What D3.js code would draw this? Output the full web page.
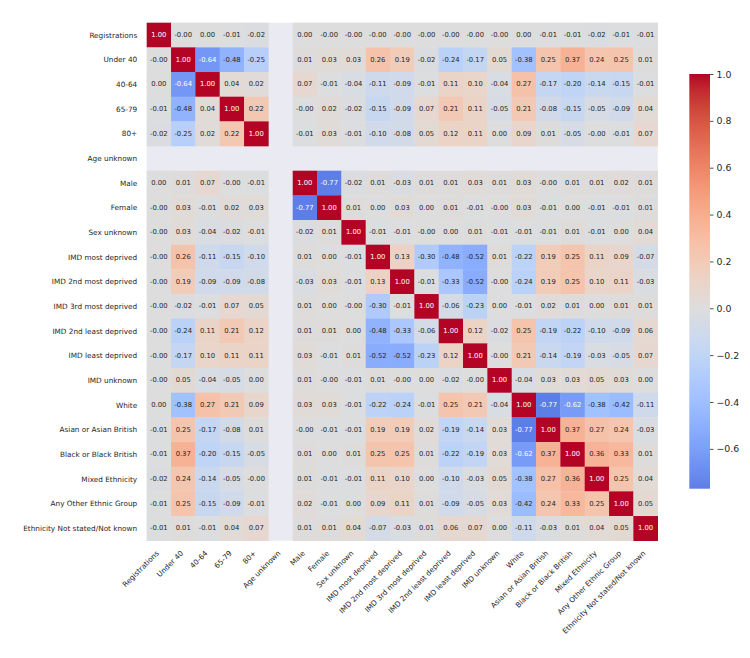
<!DOCTYPE html>
<html>
<head>
<meta charset="utf-8">
<script src="https://cdn.jsdelivr.net/npm/d3@7"></script>
<style>
  body { margin: 0; background: #ffffff; }
  text { font-family: "DejaVu Sans", sans-serif; fill: #262626; }
</style>
</head>
<body>
<div id="chart"></div>
<script>
// Row / column labels of the correlation matrix
const labels = ["Registrations", "Under 40", "40-64", "65-79", "80+", "Age unknown",
  "Male", "Female", "Sex unknown", "IMD most deprived", "IMD 2nd most deprived",
  "IMD 3rd most deprived", "IMD 2nd least deprived", "IMD least deprived", "IMD unknown",
  "White", "Asian or Asian British", "Black or Black British", "Mixed Ethnicity",
  "Any Other Ethnic Group", "Ethnicity Not stated/Not known"];

// Correlation values, one row per label (null = NaN, drawn as empty)
const N = null;
const corr = [
  [1.00, -0.00, 0.00, -0.01, -0.02, N, 0.00, -0.00, -0.00, -0.00, -0.00, -0.00, -0.00, -0.00, -0.00, 0.00, -0.01, -0.01, -0.02, -0.01, -0.01],
  [-0.00, 1.00, -0.64, -0.48, -0.25, N, 0.01, 0.03, 0.03, 0.26, 0.19, -0.02, -0.24, -0.17, 0.05, -0.38, 0.25, 0.37, 0.24, 0.25, 0.01],
  [0.00, -0.64, 1.00, 0.04, 0.02, N, 0.07, -0.01, -0.04, -0.11, -0.09, -0.01, 0.11, 0.10, -0.04, 0.27, -0.17, -0.20, -0.14, -0.15, -0.01],
  [-0.01, -0.48, 0.04, 1.00, 0.22, N, -0.00, 0.02, -0.02, -0.15, -0.09, 0.07, 0.21, 0.11, -0.05, 0.21, -0.08, -0.15, -0.05, -0.09, 0.04],
  [-0.02, -0.25, 0.02, 0.22, 1.00, N, -0.01, 0.03, -0.01, -0.10, -0.08, 0.05, 0.12, 0.11, 0.00, 0.09, 0.01, -0.05, -0.00, -0.01, 0.07],
  [N, N, N, N, N, N, N, N, N, N, N, N, N, N, N, N, N, N, N, N, N],
  [0.00, 0.01, 0.07, -0.00, -0.01, N, 1.00, -0.77, -0.02, 0.01, -0.03, 0.01, 0.01, 0.03, 0.01, 0.03, -0.00, 0.01, 0.01, 0.02, 0.01],
  [-0.00, 0.03, -0.01, 0.02, 0.03, N, -0.77, 1.00, 0.01, 0.00, 0.03, 0.00, 0.01, -0.01, -0.00, 0.03, -0.01, 0.00, -0.01, -0.01, 0.01],
  [-0.00, 0.03, -0.04, -0.02, -0.01, N, -0.02, 0.01, 1.00, -0.01, -0.01, -0.00, 0.00, 0.01, -0.01, -0.01, -0.01, 0.01, -0.01, 0.00, 0.04],
  [-0.00, 0.26, -0.11, -0.15, -0.10, N, 0.01, 0.00, -0.01, 1.00, 0.13, -0.30, -0.48, -0.52, 0.01, -0.22, 0.19, 0.25, 0.11, 0.09, -0.07],
  [-0.00, 0.19, -0.09, -0.09, -0.08, N, -0.03, 0.03, -0.01, 0.13, 1.00, -0.01, -0.33, -0.52, -0.00, -0.24, 0.19, 0.25, 0.10, 0.11, -0.03],
  [-0.00, -0.02, -0.01, 0.07, 0.05, N, 0.01, 0.00, -0.00, -0.30, -0.01, 1.00, -0.06, -0.23, 0.00, -0.01, 0.02, 0.01, 0.00, 0.01, 0.01],
  [-0.00, -0.24, 0.11, 0.21, 0.12, N, 0.01, 0.01, 0.00, -0.48, -0.33, -0.06, 1.00, 0.12, -0.02, 0.25, -0.19, -0.22, -0.10, -0.09, 0.06],
  [-0.00, -0.17, 0.10, 0.11, 0.11, N, 0.03, -0.01, 0.01, -0.52, -0.52, -0.23, 0.12, 1.00, -0.00, 0.21, -0.14, -0.19, -0.03, -0.05, 0.07],
  [-0.00, 0.05, -0.04, -0.05, 0.00, N, 0.01, -0.00, -0.01, 0.01, -0.00, 0.00, -0.02, -0.00, 1.00, -0.04, 0.03, 0.03, 0.05, 0.03, 0.00],
  [0.00, -0.38, 0.27, 0.21, 0.09, N, 0.03, 0.03, -0.01, -0.22, -0.24, -0.01, 0.25, 0.21, -0.04, 1.00, -0.77, -0.62, -0.38, -0.42, -0.11],
  [-0.01, 0.25, -0.17, -0.08, 0.01, N, -0.00, -0.01, -0.01, 0.19, 0.19, 0.02, -0.19, -0.14, 0.03, -0.77, 1.00, 0.37, 0.27, 0.24, -0.03],
  [-0.01, 0.37, -0.20, -0.15, -0.05, N, 0.01, 0.00, 0.01, 0.25, 0.25, 0.01, -0.22, -0.19, 0.03, -0.62, 0.37, 1.00, 0.36, 0.33, 0.01],
  [-0.02, 0.24, -0.14, -0.05, -0.00, N, 0.01, -0.01, -0.01, 0.11, 0.10, 0.00, -0.10, -0.03, 0.05, -0.38, 0.27, 0.36, 1.00, 0.25, 0.04],
  [-0.01, 0.25, -0.15, -0.09, -0.01, N, 0.02, -0.01, 0.00, 0.09, 0.11, 0.01, -0.09, -0.05, 0.03, -0.42, 0.24, 0.33, 0.25, 1.00, 0.05],
  [-0.01, 0.01, -0.01, 0.04, 0.07, N, 0.01, 0.01, 0.04, -0.07, -0.03, 0.01, 0.06, 0.07, 0.00, -0.11, -0.03, 0.01, 0.04, 0.05, 1.00]
];

// Colorbar ticks
const cbarTicks = [-0.6, -0.4, -0.2, 0.0, 0.2, 0.4, 0.6, 0.8, 1.0];

// matplotlib "coolwarm" colour stops (Moreland), evenly spaced on [0, 1]
const coolwarm = ["#3b4cc0", "#445acc", "#4d68d7", "#5775e1", "#6282ea", "#6c8ef1", "#779af7", "#82a5fb",
  "#8db0fe", "#98b9ff", "#a3c2ff", "#aec9fd", "#b8d0f9", "#c2d5f4", "#ccd9ee", "#d5dbe6",
  "#dddddd", "#e5d8d1", "#ecd3c5", "#f1ccb9", "#f5c4ad", "#f7bba0", "#f7b194", "#f7a687",
  "#f49a7b", "#f18d6f", "#ec7f63", "#e57058", "#de604d", "#d55042", "#cb3e38", "#c0282f", "#b40426"];

const width = 750, height = 658;
const gLeft = 146.7, gRight = 657.7, gTop = 22.7, gBottom = 540.7;

const svg = d3.select("#chart").append("svg")
  .attr("width", width)
  .attr("height", height);

const x = d3.scaleBand().domain(labels).range([gLeft, gRight]);
const y = d3.scaleBand().domain(labels).range([gTop, gBottom]);

// seaborn centres the colormap at 0, so value v sits at (v + 1) / 2
const cw = d3.scaleLinear()
  .domain(d3.range(coolwarm.length).map(i => i / (coolwarm.length - 1)))
  .range(coolwarm)
  .interpolate(d3.interpolateRgb);
const color = v => cw((v + 1) / 2);

function luminance(c) {
  const rgb = d3.rgb(c);
  const lin = [rgb.r, rgb.g, rgb.b].map(function(v) {
    v = v / 255;
    return v <= 0.03928 ? v / 12.92 : Math.pow((v + 0.055) / 1.055, 2.4);
  });
  return 0.2126 * lin[0] + 0.7152 * lin[1] + 0.0722 * lin[2];
}

// keep the sign of -0.00 like the original
function fmt(v) {
  const neg = v < 0 || Object.is(v, -0);
  return (neg ? "-" : "") + Math.abs(v).toFixed(2);
}

// axes background (shows through the NaN cells)
svg.append("rect")
  .attr("x", gLeft).attr("y", gTop)
  .attr("width", gRight - gLeft).attr("height", gBottom - gTop)
  .attr("fill", "#eaeaf2");

const cells = [];
corr.forEach(function(row, i) {
  row.forEach(function(v, j) {
    if (v !== null) cells.push({row: labels[i], col: labels[j], value: v});
  });
});

svg.append("g")
  .selectAll("rect")
  .data(cells)
  .enter()
  .append("rect")
  .attr("x", d => x(d.col))
  .attr("y", d => y(d.row))
  .attr("width", x.bandwidth() + 0.3)
  .attr("height", y.bandwidth() + 0.3)
  .attr("fill", d => color(d.value));

svg.append("g")
  .selectAll("text")
  .data(cells)
  .enter()
  .append("text")
  .attr("x", d => x(d.col) + x.bandwidth() / 2)
  .attr("y", d => y(d.row) + y.bandwidth() / 2)
  .attr("text-anchor", "middle")
  .attr("dominant-baseline", "central")
  .style("font-size", "6.8px")
  .style("fill", d => luminance(color(d.value)) > 0.408 ? "#262626" : "#ffffff")
  .text(d => fmt(d.value));

// row labels
svg.append("g")
  .selectAll("text")
  .data(labels)
  .enter()
  .append("text")
  .attr("x", gLeft - 9.5)
  .attr("y", d => y(d) + y.bandwidth() / 2)
  .attr("text-anchor", "end")
  .attr("dominant-baseline", "central")
  .style("font-size", "7.3px")
  .text(d => d);

// column labels, rotated 45 degrees
svg.append("g")
  .selectAll("text")
  .data(labels)
  .enter()
  .append("text")
  .attr("transform", d => "translate(" + (x(d) + x.bandwidth() / 2 + 0.5) + "," + (gBottom + 13) + ") rotate(-45)")
  .attr("text-anchor", "end")
  .style("font-size", "7.3px")
  .text(d => d);

// colorbar
const vals = corr.flat().filter(v => v !== null);
const vmin = d3.min(vals);
const vmax = d3.max(vals);
const cb = d3.scaleLinear().domain([vmin, vmax]).range([488.7, 74]);
const cbX = 689.3, cbW = 20.7;

const grad = svg.append("defs").append("linearGradient")
  .attr("id", "cbar")
  .attr("x1", 0).attr("y1", 1).attr("x2", 0).attr("y2", 0);
grad.selectAll("stop")
  .data(d3.range(0, 1.0001, 1 / 64))
  .enter()
  .append("stop")
  .attr("offset", t => t)
  .attr("stop-color", t => color(vmin + t * (vmax - vmin)));

svg.append("rect")
  .attr("x", cbX).attr("y", cb(vmax))
  .attr("width", cbW).attr("height", cb(vmin) - cb(vmax))
  .attr("fill", "url(#cbar)");

const cbAxis = svg.append("g")
  .attr("transform", "translate(" + (cbX + cbW) + ",0)")
  .call(d3.axisRight(cb).tickValues(cbarTicks).tickFormat(d3.format(".1f")).tickSize(3.5).tickPadding(3));
cbAxis.select(".domain").remove();
cbAxis.selectAll(".tick line").attr("stroke", "#262626").attr("stroke-width", 0.8);
cbAxis.selectAll(".tick text")
  .style("font-family", "DejaVu Sans, sans-serif")
  .style("font-size", "9.4px")
  .style("fill", "#262626");
</script>
</body>
</html>
